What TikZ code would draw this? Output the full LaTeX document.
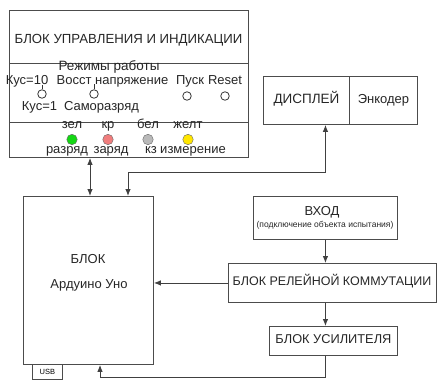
\documentclass[tikz,border=0pt]{standalone}
\usepackage{fontspec}
\setmainfont{Liberation Sans}
\usetikzlibrary{arrows.meta, positioning, calc}
\tikzset{
  blk/.style={draw=black!70, line width=0.9pt, inner sep=0pt, anchor=north west, font=\fontsize{13}{15}\selectfont},
  txt/.style={inner sep=0pt, text height=0.72em, text depth=0.2em, font=\fontsize{13}{15}\selectfont, text=black!85},
  arr/.style={-{Latex[length=7pt, width=5.5pt]}, draw=black!75, line width=0.9pt},
  dblarr/.style={{Latex[length=7pt, width=5.5pt]}-{Latex[length=7pt, width=5.5pt]}, draw=black!75, line width=0.9pt},
  led/.style={circle, draw=black!60, fill=#1, minimum size=10.5pt, inner sep=0pt},
  knob/.style={circle, draw=black!80, line width=0.8pt, minimum size=8.5pt, inner sep=0pt},
}
\definecolor{ledgreen}{RGB}{20,215,20}
\definecolor{ledred}{RGB}{240,125,125}
\definecolor{ledgrey}{RGB}{185,185,185}
\definecolor{ledyellow}{RGB}{255,230,0}

\begin{document}
\begin{tikzpicture}[x=1pt, y=-1pt]
    \useasboundingbox (0,0) rectangle (437,380);
    \node[blk, minimum width=239pt, minimum height=52.5pt] (ctrl) at (9,10) {};
    \node[blk, minimum width=239pt, minimum height=59pt] (modes) at (9,62.5) {};
    \node[blk, minimum width=239pt, minimum height=35.5pt] (ind) at (9,121.5) {};
    \node[txt, font=\fontsize{13.2}{15}\selectfont] (title) at (128.5,41) {БЛОК УПРАВЛЕНИЯ И ИНДИКАЦИИ};
    \node[txt, font=\fontsize{13.5}{15}\selectfont] (mtitle) at (109,68) {Режимы работы};
    \node[txt] (kus10) at (27,82) {Кус=10};
    \node[txt] (vosst) at (112.5,82) {Восст напряжение};
    \node[txt] (pusk) at (190,82) {Пуск};
    \node[txt] (reset) at (225,82) {Reset};
    \node[knob] (k1) at (42,94) {};
    \node[knob] (k2) at (94,94) {};
    \node[knob] (k3) at (187,96) {};
    \node[knob] (k4) at (225,96) {};
    \draw[black!80, line width=0.8pt] (k1.north) -- ++(0,-4);
    \draw[black!80, line width=0.8pt] (k2.north) -- ++(0,-5);
    \node[txt] (kus1) at (39.5,108) {Кус=1};
    \node[txt] (samo) at (101.5,108) {Саморазряд};
    \node[txt] (lg) at (72,126) {зел};
    \node[txt] (lr) at (108,126) {кр};
    \node[txt] (lw) at (148,126) {бел};
    \node[txt] (ly) at (188,126) {желт};
    \node[led=ledgreen] (g) at (72,139.5) {};
    \node[led=ledred] (r) at (108,139.5) {};
    \node[led=ledgrey] (w) at (148,139.5) {};
    \node[led=ledyellow] (y) at (188,139.5) {};
    \node[txt] (dg) at (67,150.5) {разряд};
    \node[txt] (dr) at (111,150.5) {заряд};
    \node[txt] (dw) at (151,150.5) {кз};
    \node[txt] (dy) at (193,150.5) {измерение};
    \node[blk, minimum width=86pt, minimum height=48pt] (disp) at (263,76) {};
    \node[txt, font=\fontsize{13.5}{15}\selectfont] at (disp.center) {ДИСПЛЕЙ};
    \node[blk, minimum width=68pt, minimum height=48pt] (enc) at (349,76) {};
    \node[txt] at (enc.center) {Энкодер};
    \node[blk, minimum width=130pt, minimum height=168pt] (ard) at (23,196) {};
    \node[txt] (ardt) at (88,261) {БЛОК};
    \node[txt] (ardn) at (89,286) {Ардуино Уно};
    \node[blk, minimum width=30pt, minimum height=15pt, font=\fontsize{7.5}{9}\selectfont] (usb) at (32,364) {USB};
    \node[blk, minimum width=144pt, minimum height=43pt] (inp) at (253,196) {};
    \node[txt] (inpt) at (322,213) {ВХОД};
    \node[txt, font=\fontsize{8.5}{9}\selectfont] (inps) at (325,225) {(подключение объекта испытания)};
    \node[blk, minimum width=208pt, minimum height=39pt] (rel) at (228,263) {};
    \node[txt, anchor=west, font=\fontsize{12.5}{15}\selectfont] at ([xshift=4.5pt]rel.west) {БЛОК РЕЛЕЙНОЙ КОММУТАЦИИ};
    \node[blk, minimum width=128pt, minimum height=29pt] (amp) at (269,326) {};
    \node[txt, font=\fontsize{12.8}{15}\selectfont] at (amp.center) {БЛОК УСИЛИТЕЛЯ};
    \draw[dblarr] (ind.south -| 90,0) -- (ard.north -| 90,0);
    \draw[dblarr] (ard.north -| 128,0) |- (inp.north |- 0,172.5) -- (disp.south -| inp.north);
    \draw[arr] (inp.south) -- (rel.north -| inp.south);
    \draw[arr] (rel.west) -- (ard.east |- rel.west);
    \draw[arr] (rel.south -| inp.south) -- (amp.north -| inp.south);
    \draw[arr] (amp.south -| inp.south) |- (100,377.5) -- (ard.south -| 100,0);
\end{tikzpicture}
\end{document}
